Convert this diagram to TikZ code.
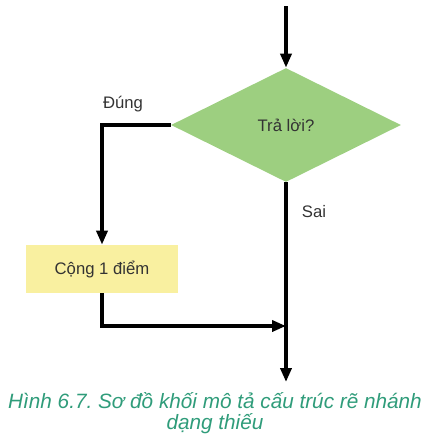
\documentclass[tikz,border=0pt]{standalone}
\usepackage{fontspec}
\setmainfont{Liberation Sans}
\usepackage{tikz}
\usetikzlibrary{arrows.meta,shapes.geometric,positioning}
\definecolor{leafgreen}{HTML}{9DCF80}
\definecolor{paleyellow}{HTML}{F9F0A0}
\definecolor{captiongreen}{HTML}{2F9C7A}
\definecolor{inkgrey}{HTML}{333333}
\frenchspacing

\begin{document}
\begin{tikzpicture}[
		x=0.02cm,y=-0.02cm,
		decide/.style={
			diamond,
			fill=leafgreen,
			minimum width=4.6cm,
			minimum height=2.28cm,
			aspect=2,
			inner sep=0pt,
			text=inkgrey,
			font=\fontsize{9.5}{11}\selectfont
		},
		act/.style={
			rectangle,
			fill=paleyellow,
			minimum width=3.04cm,
			minimum height=0.96cm,
			inner sep=0pt,
			text=inkgrey,
			font=\fontsize{9.5}{11}\selectfont
		},
		lab/.style={
			text=inkgrey,
			font=\fontsize{9.5}{11}\selectfont
		},
		flow/.style={
			line width=2.1pt,
			-{Triangle[length=0.28cm,width=0.22cm]}
		}
		]
		\useasboundingbox (0,0) rectangle (441,447);
		
		\node[decide] (ask) at (286,125) {Trả lời?};
		\node[act] (add) at (102,269) {Cộng 1 điểm};
		\node[lab] (yes) at (123,104) {Đúng};
		\node[lab] (no) at (314,212) {Sai};
		
		\coordinate (start) at (286,6);
		\coordinate (join) at (286,326);
		\coordinate (stop) at (286,382);
		
		\draw[flow] (start) -- (ask.north);
		\draw[flow] (ask.west) -| (add.north);
		\draw[flow] (add.south) |- (join);
		\draw[flow] (ask.south) -- (stop);
		
		\node[text=captiongreen, font=\fontsize{11.8}{12}\selectfont\itshape, align=center] 
		(cap) at (215,413) {Hình 6.7. Sơ đồ khối mô tả cấu trúc rẽ nhánh\\dạng thiếu};
		
		\end{tikzpicture}
\end{document}
